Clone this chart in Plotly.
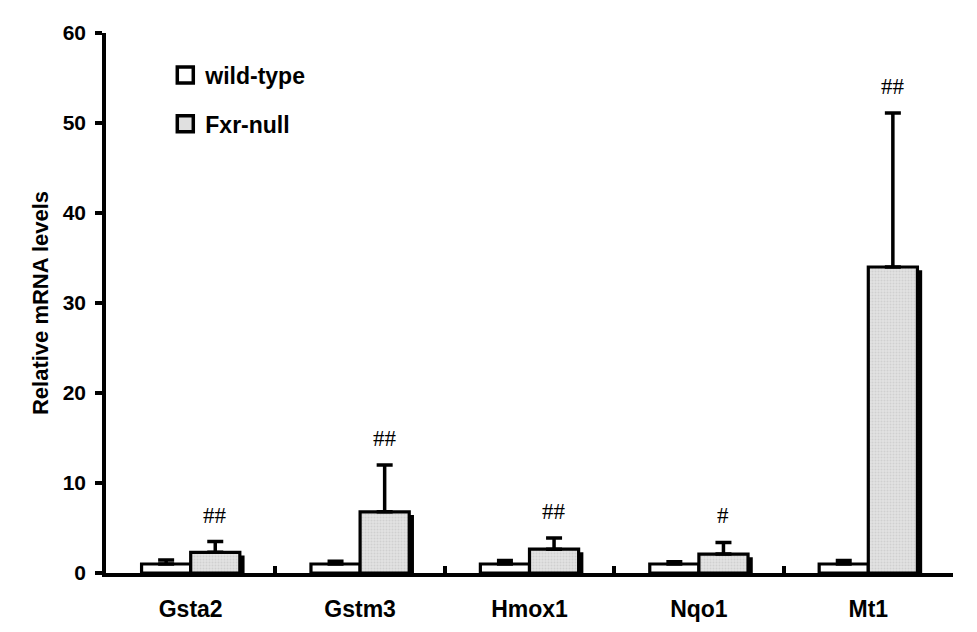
import plotly.graph_objects as go

genes = ["Gsta2", "Gstm3", "Hmox1", "Nqo1", "Mt1"]
wt_mean = [1.0, 1.0, 1.0, 1.0, 1.0]
wt_err = [0.45, 0.3, 0.4, 0.25, 0.4]
fxr_mean = [2.3, 6.8, 2.65, 2.1, 34.0]
fxr_err = [1.2, 5.2, 1.25, 1.3, 17.1]
sig_labels = ["##", "##", "##", "#", "##"]
series_names = ["wild-type", "Fxr-null"]

font_main = "Liberation Sans, Arial, sans-serif"
W = 0.29
FXR_FILL = "#e0e0e0"

fig = go.Figure()

# shadow behind Fxr-null bars
fig.add_trace(go.Bar(
    x=genes, y=[v - 0.35 for v in fxr_mean], width=W, offset=0.028,
    marker=dict(color="black", line=dict(width=0)),
    showlegend=False, hoverinfo="skip"))

fig.add_trace(go.Bar(
    name=series_names[0], x=genes, y=wt_mean, width=W, offset=-W,
    marker=dict(color="white", line=dict(color="black", width=3.2)),
    error_y=dict(type="data", array=wt_err, arrayminus=[0]*5, symmetric=False,
                 color="black", thickness=3.5, width=8),
    showlegend=False))

fig.add_trace(go.Bar(
    name=series_names[1], x=genes, y=fxr_mean, width=W, offset=0,
    marker=dict(color=FXR_FILL, line=dict(color="black", width=3.2),
                pattern=dict(shape=".", fgcolor="#bdbdbd", bgcolor="#e2e2e2", size=3, solidity=0.35)),
    error_y=dict(type="data", array=fxr_err, arrayminus=[0]*5, symmetric=False,
                 color="black", thickness=3.5, width=8),
    showlegend=False))

# legend entries (square symbols like the original key)
for name, fill, grp in [(series_names[0], "white", "wt"), (series_names[1], FXR_FILL, "fxr")]:
    fig.add_trace(go.Scatter(
        x=[None], y=[None], mode="markers", name=name, legendgroup=grp,
        marker=dict(symbol="square", size=16, color=fill, line=dict(color="black", width=3.5))))

for i, (m, e, lab) in enumerate(zip(fxr_mean, fxr_err, sig_labels)):
    fig.add_annotation(x=i + W / 2, y=m + e, text=lab, showarrow=False,
                       yanchor="bottom", yshift=12,
                       font=dict(family="Liberation Serif, Times New Roman, serif", size=23, color="black"))

fig.update_layout(
    width=969, height=624,
    margin=dict(l=98, r=24, t=25, b=59),
    plot_bgcolor="white", paper_bgcolor="white",
    barmode="overlay",
    showlegend=True,
    legend=dict(x=0.07, y=0.962, xanchor="left", yanchor="top",
                font=dict(family=font_main, size=23, color="black", weight="bold"),
                traceorder="grouped", tracegroupgap=16, bgcolor="rgba(0,0,0,0)",
                itemwidth=30),
    font=dict(family=font_main, color="black"),
)

fig.update_xaxes(
    type="category", range=[-0.5, 4.5], automargin=False,
    showline=True, linecolor="black", linewidth=3.5,
    ticks="inside", tickson="boundaries", ticklen=7, tickwidth=3.5, tickcolor="black",
    ticklabelstandoff=13,
    tickfont=dict(family=font_main, size=23, color="black", weight="bold"),
    showgrid=False, zeroline=False)

fig.update_yaxes(
    range=[0, 60], tickvals=[0, 10, 20, 30, 40, 50, 60], automargin=False,
    showline=True, linecolor="black", linewidth=3.5,
    ticks="outside", ticklen=7, tickwidth=3.5, tickcolor="black",
    ticklabelstandoff=5,
    tickfont=dict(family=font_main, size=21, color="black", weight="bold"),
    title=dict(text="Relative mRNA levels", standoff=9,
               font=dict(family=font_main, size=22, color="black", weight="bold")),
    showgrid=False, zeroline=False)

fig.write_html("out.html")
